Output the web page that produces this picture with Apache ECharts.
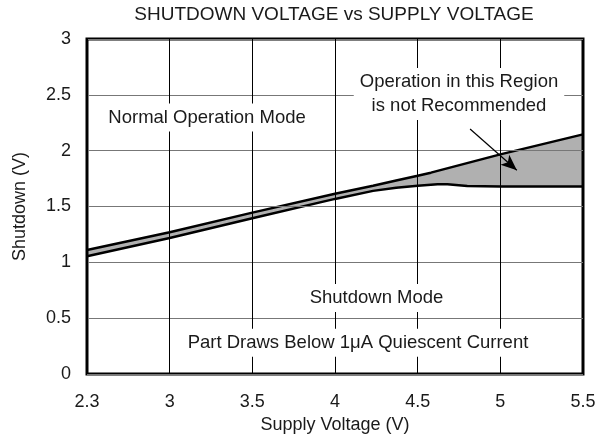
<!DOCTYPE html>
<html>
<head>
<meta charset="utf-8">
<script src="https://cdn.jsdelivr.net/npm/echarts@6/dist/echarts.min.js"></script>
<style>
  html, body { margin: 0; padding: 0; background: #fff; }
  #chart { width: 599px; height: 447px; }
</style>
</head>
<body>
<div id="chart"></div>
<script>
// supply voltage (V) -> shutdown threshold (V)
var upperVolt = [2.3, 3, 3.5, 4, 4.23, 4.37, 4.5, 4.58, 5, 5.5];
var upperShdn = [1.11, 1.27, 1.445, 1.615, 1.686, 1.733, 1.776, 1.803, 1.967, 2.146];
var lowerVolt = [2.3, 3, 3.5, 4, 4.23, 4.37, 4.5, 4.62, 4.68, 4.8, 5, 5.5];
var lowerShdn = [1.055, 1.218, 1.395, 1.568, 1.64, 1.667, 1.685, 1.70, 1.70, 1.683, 1.68, 1.68];
var notes = ['Normal Operation Mode', 'Operation in this Region\nis not Recommended', 'Shutdown Mode', 'Part Draws Below 1\u03bcA Quiescent Current'];

var FONT = '"Liberation Sans", Arial, sans-serif';
var TXT = '#1a1a1a';

// the x axis is broken: 2.3..3 takes the same width as one 0.5 step
function toPos(v) { return v < 3 ? 3 - (3 - v) * 0.5 / 0.7 : v; }
function toVolt(p) { return p < 3 ? 3 - (3 - p) * 0.7 / 0.5 : p; }

function pairs(xs, ys) {
  var out = [];
  for (var i = 0; i < xs.length; i++) out.push([toPos(xs[i]), ys[i]]);
  return out;
}

var chart = echarts.init(document.getElementById('chart'), null, { renderer: 'canvas' });

var noteLabel = {
  show: true,
  position: 'inside',
  formatter: '{b}',
  color: TXT,
  fontFamily: FONT,
  fontSize: 18.5,
  lineHeight: 24,
  backgroundColor: '#fff',
  padding: [2, 6]
};

var option = {
  animation: false,
  textStyle: { fontFamily: FONT },
  title: {
    text: 'SHUTDOWN VOLTAGE vs SUPPLY VOLTAGE',
    left: 334,
    top: 5,
    textAlign: 'center',
    padding: 0,
    textStyle: { fontSize: 19, fontWeight: 'normal', color: TXT, fontFamily: FONT }
  },
  grid: {
    left: 87, right: 16, top: 39, bottom: 73,
    show: true,
    borderColor: '#000',
    borderWidth: 3,
    backgroundColor: 'transparent',
    z: 10
  },
  xAxis: {
    type: 'value',
    min: 2.5, max: 5.5, interval: 0.5,
    z: 10,
    axisLine: { show: false },
    axisTick: { show: false },
    splitLine: { show: true, lineStyle: { color: '#000', width: 1 } },
    axisLabel: {
      margin: 19, fontSize: 18, color: TXT, fontFamily: FONT,
      formatter: function (p) { return String(Math.round(toVolt(p) * 10) / 10); }
    },
    name: 'Supply Voltage (V)',
    nameLocation: 'middle',
    nameGap: 41,
    nameTextStyle: { fontSize: 18, color: TXT, fontFamily: FONT }
  },
  yAxis: {
    type: 'value',
    min: 0, max: 3, interval: 0.5,
    z: 10,
    axisLine: { show: false },
    axisTick: { show: false },
    splitLine: { show: true, lineStyle: { color: '#777', width: 1 } },
    axisLabel: { margin: 16, fontSize: 18, color: TXT, fontFamily: FONT },
    name: 'Shutdown (V)',
    nameLocation: 'middle',
    nameRotate: 90,
    nameGap: 58,
    nameTextStyle: { fontSize: 18, color: TXT, fontFamily: FONT }
  },
  series: [
    {
      name: 'upper',
      type: 'line',
      z: 3,
      data: pairs(upperVolt, upperShdn),
      showSymbol: false,
      silent: true,
      lineStyle: { color: '#000', width: 2.5 },
      areaStyle: { color: '#b0b0b0', opacity: 1, origin: 'start' }
    },
    {
      name: 'lower',
      type: 'line',
      z: 4,
      data: pairs(lowerVolt, lowerShdn),
      showSymbol: false,
      silent: true,
      lineStyle: { color: '#000', width: 2.5 },
      areaStyle: { color: '#fff', opacity: 1, origin: 'start' }
    },
    {
      name: 'notes',
      type: 'line',
      z: 20,
      data: [],
      silent: true,
      markPoint: {
        z: 30,
        symbol: 'rect',
        symbolSize: 1,
        itemStyle: { color: 'rgba(0,0,0,0)' },
        label: noteLabel,
        data: [
          { name: notes[0], coord: [toPos(3.226), 2.297] },
          { name: notes[1], coord: [toPos(4.75), 2.507] },
          { name: notes[2], coord: [toPos(4.251), 0.68] },
          { name: notes[3], coord: [toPos(4.139), 0.28] }
        ]
      },
      markLine: {
        z: 30,
        silent: true,
        symbol: ['none', 'arrow'],
        symbolSize: [10, 16],
        lineStyle: { color: '#000', width: 1.2, type: 'solid' },
        label: { show: false },
        data: [[{ coord: [toPos(4.817), 2.194] }, { coord: [toPos(5.1), 1.825] }]]
      }
    }
  ]
};

chart.setOption(option);
</script>
</body>
</html>
